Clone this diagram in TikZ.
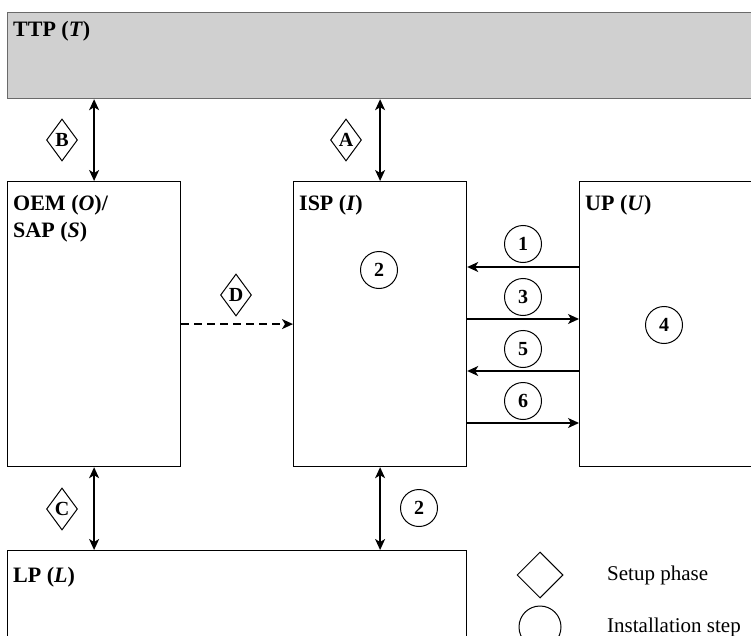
\documentclass[tikz,border=0pt]{standalone}
\usepackage{fontspec}
\setmainfont{Liberation Serif}
\usepackage{xcolor}
\usetikzlibrary{shapes.geometric, arrows.meta, positioning}
\definecolor{ttpfill}{HTML}{D0D0D0}
\definecolor{ttpline}{HTML}{6A6A6A}

\begin{document}
\begin{tikzpicture}[
    x=1pt, y=-1pt,
    every node/.style={font=\fontsize{21}{26}\selectfont},
    party/.style={draw, line width=1.2pt, anchor=north west, inner sep=0pt},
    partyname/.style={anchor=north west, inner sep=0pt, align=left, font=\fontsize{22}{27}\selectfont\bfseries},
    phase/.style={draw, diamond, line width=1pt, inner sep=0pt, minimum width=31pt, minimum height=42pt, font=\fontsize{20}{24}\selectfont\bfseries},
    stepno/.style={draw, circle, line width=1pt, inner sep=0pt, minimum size=37pt, font=\fontsize{20}{24}\selectfont\bfseries},
    link/.style={line width=1.5pt, -{Stealth[length=11pt, width=10pt, inset=3pt]}},
    both/.style={line width=1.5pt, {Stealth[length=11pt, width=10pt, inset=3pt]}-{Stealth[length=11pt, width=10pt, inset=3pt]}}
]
\clip (0,0) rectangle (751,636);

% parties
\node[party, fill=ttpfill, draw=ttpline, minimum width=760pt, minimum height=86pt] (ttp) at (7,12) {};
\node[party, minimum width=173pt, minimum height=285pt] (oem) at (7,181) {};
\node[party, minimum width=173pt, minimum height=285pt] (isp) at (293,181) {};
\node[party, minimum width=190pt, minimum height=285pt] (up) at (579,181) {};
\node[party, minimum width=459pt, minimum height=110pt] (lp) at (7,550) {};

\node[partyname] (ttpname) at (13,21) {TTP (\textit{T})};
\node[partyname] (oemname) at (13,195) {OEM (\textit{O})/\\SAP (\textit{S})};
\node[partyname] (ispname) at (299,195) {ISP (\textit{I})};
\node[partyname] (upname) at (585,195) {UP (\textit{U})};
\node[partyname] (lpname) at (13,567) {LP (\textit{L})};

% setup phase
\draw[both] (oem.north |- ttp.south) -- (oem.north);
\draw[both] (isp.north |- ttp.south) -- (isp.north);
\draw[both] (oem.south) -- (oem.south |- lp.north);
\draw[link, dash pattern=on 8pt off 5pt] (oem.east) -- (isp.west);
\node[phase] (phB) at (62,140) {B};
\node[phase] (phA) at (346,140) {A};
\node[phase] (phC) at (62,509) {C};
\node[phase] (phD) at (236,295) {D};

% installation steps
\coordinate (r1) at (466,267);
\coordinate (r3) at (466,319);
\coordinate (r5) at (466,371);
\coordinate (r6) at (466,423);
\draw[link] (r1 -| up.west) -- (r1 -| isp.east);
\draw[link] (r3 -| isp.east) -- (r3 -| up.west);
\draw[link] (r5 -| up.west) -- (r5 -| isp.east);
\draw[link] (r6 -| isp.east) -- (r6 -| up.west);
\draw[both] (isp.south) -- (isp.south |- lp.north);
\node[stepno] (s1) at (523,244) {1};
\node[stepno] (s3) at (523,297) {3};
\node[stepno] (s5) at (523,349) {5};
\node[stepno] (s6) at (523,401) {6};
\node[stepno] (s2) at (379,270) {2};
\node[stepno] (s4) at (664,325) {4};
\node[stepno] (s2b) at (419,508) {2};

% legend
\node[phase, minimum width=46pt, minimum height=46pt] (keyphase) at (540,575) {};
\node[stepno, minimum size=42pt] (keystep) at (540,627) {};
\node[anchor=west, inner sep=0pt] (keyphasetxt) at (607,575) {Setup phase};
\node[anchor=west, inner sep=0pt] (keysteptxt) at (607,627) {Installation step};
\end{tikzpicture}
\end{document}
